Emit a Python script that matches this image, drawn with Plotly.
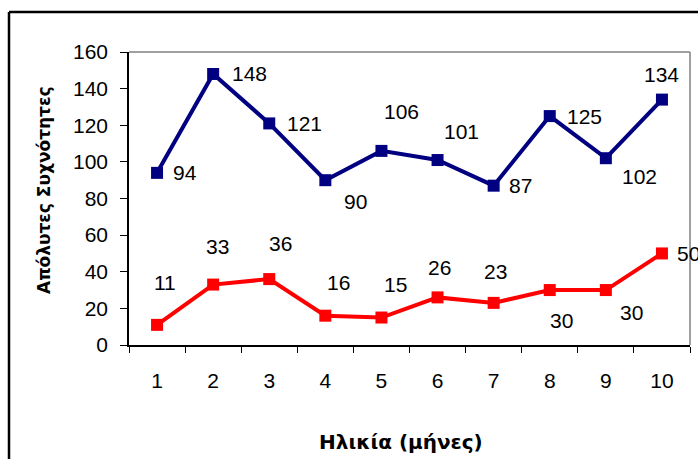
import plotly.graph_objects as go

categories = ["1", "2", "3", "4", "5", "6", "7", "8", "9", "10"]
series_blue = [94, 148, 121, 90, 106, 101, 87, 125, 102, 134]
series_red = [11, 33, 36, 16, 15, 26, 23, 30, 30, 50]
y_ticks = [0, 20, 40, 60, 80, 100, 120, 140, 160]

# label offsets in pixels (style): (dx, dy) with dy positive = downward
blue_shift = [(28, 0), (36, 0), (35, 0), (30, 21), (20, -39), (24, -29), (27, 0), (35, 0), (34, 18), (0, -25)]
red_shift = [(8, -42), (4, -38), (11, -36), (13, -33), (14, -33), (2, -30), (2, -31), (12, 30), (26, 22), (27, 0)]

W, H = 698, 459
L, R, T, B = 129, 8, 52, 114
pw, ph = W - L - R, H - T - B

fig = go.Figure()
fig.add_trace(go.Scatter(x=categories, y=series_blue, mode="lines+markers",
                         line=dict(color="#000080", width=4),
                         marker=dict(symbol="square", size=12, color="#000080"),
                         cliponaxis=False, showlegend=False))
fig.add_trace(go.Scatter(x=categories, y=series_red, mode="lines+markers",
                         line=dict(color="#FF0000", width=4),
                         marker=dict(symbol="square", size=12, color="#FF0000"),
                         cliponaxis=False, showlegend=False))

font = dict(family="Liberation Sans, Arial, sans-serif", size=21, color="black")
ann = []
for i, (v, (dx, dy)) in enumerate(zip(series_blue, blue_shift)):
    ann.append(dict(x=i, y=v, text=str(v), showarrow=False, xshift=dx, yshift=-dy, font=font,
                    xanchor="center", yanchor="middle"))
for i, (v, (dx, dy)) in enumerate(zip(series_red, red_shift)):
    ann.append(dict(x=i, y=v, text=str(v), showarrow=False, xshift=dx, yshift=-dy, font=font,
                    xanchor="center", yanchor="middle"))

title_font = "DejaVu Sans, Verdana, sans-serif"
ann.append(dict(xref="paper", yref="paper", x=(44 - L) / pw, y=(345 - 190) / ph,
                xanchor="center", yanchor="middle",
                text="<b>Απόλυτες Συχνότητες</b>", textangle=-90, showarrow=False,
                font=dict(family=title_font, size=17, color="black")))
ann.append(dict(xref="paper", yref="paper", x=(401 - L) / pw, y=(345 - 442) / ph,
                xanchor="center", yanchor="middle",
                text="<b>Ηλικία (μήνες)</b>", showarrow=False,
                font=dict(family=title_font, size=20, color="black")))

shapes = [
    dict(type="line", xref="paper", yref="paper", x0=0, x1=1, y0=1, y1=1, line=dict(color="#808080", width=1.5)),
    dict(type="line", xref="paper", yref="paper", x0=1, x1=1, y0=0, y1=1, line=dict(color="#808080", width=1.5)),
    dict(type="line", xref="paper", yref="paper", x0=(9 - L) / pw, x1=(9 - L) / pw,
         y0=(345 - 12) / ph, y1=(345 - 470) / ph, line=dict(color="black", width=2.5)),
    dict(type="line", xref="paper", yref="paper", x0=(9 - L) / pw, x1=(710 - L) / pw,
         y0=(345 - 12) / ph, y1=(345 - 12) / ph, line=dict(color="black", width=2.5)),
]

fig.update_layout(
    width=W, height=H,
    margin=dict(l=L, r=R, t=T, b=B, autoexpand=False),
    paper_bgcolor="white", plot_bgcolor="white",
    annotations=ann, shapes=shapes,
    font=font,
    xaxis=dict(type="category", categoryorder="array", categoryarray=categories,
               tickson="boundaries", ticks="outside", ticklen=6, tickcolor="black",
               showline=True, linecolor="black", linewidth=1.5, showgrid=False, zeroline=False,
               range=[-0.5, 9.5], ticklabelstandoff=16, tickfont=font, automargin=False),
    yaxis=dict(range=[0, 160], tickvals=y_ticks, ticks="outside", ticklen=7, tickcolor="black",
               showline=True, linecolor="black", linewidth=1.5, showgrid=False, zeroline=False,
               ticklabelstandoff=8, tickfont=font, automargin=False),
)

fig.write_html("out.html", config={"displayModeBar": False},
               post_script="document.body.style.margin='0';document.body.style.padding='0';document.body.style.overflow='hidden';")
